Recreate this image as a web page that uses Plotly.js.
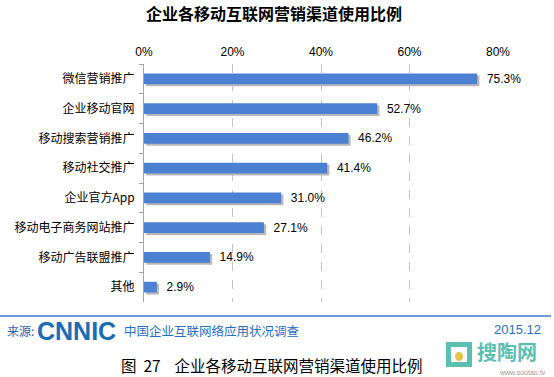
<!DOCTYPE html>
<html>
<head>
<meta charset="utf-8">
<script src="https://cdn.plot.ly/plotly-3.0.1.min.js"></script>
<style>html,body{margin:0;padding:0;background:#fff;}#chart{width:554px;height:377px;}</style>
</head>
<body>
<div id="chart"></div>
<script>
const categories = ["微信营销推广","企业移动官网","移动搜索营销推广","移动社交推广","企业官方App","移动电子商务网站推广","移动广告联盟推广","其他"];
const values = [75.3, 52.7, 46.2, 41.4, 31.0, 27.1, 14.9, 2.9];
const xTickVals = [0, 20, 40, 60, 80];
const xTickText = ["0%", "20%", "40%", "60%", "80%"];
const chartTitle = "企业各移动互联网营销渠道使用比例";
const sourceLabel = "来源";
const sourceLogo = "CNNIC";
const sourceName = "中国企业互联网络应用状况调查";
const dateLabel = "2015.12";
const caption = "图  27    企业各移动互联网营销渠道使用比例";

const W = 554, H = 377;
const M = {l: 144, r: 56, t: 64, b: 75};
const pw = W - M.l - M.r, ph = H - M.t - M.b;
const px = x => (x - M.l) / pw;
const py = y => (H - M.b - y) / ph;

const barW = 0.36;
const cjk = '"Noto Sans CJK SC", "Microsoft YaHei", sans-serif';
const latin = '"Liberation Sans", Arial, sans-serif';

const shadow = {
  type: 'bar', orientation: 'h', y: categories, x: values,
  base: 0.5, width: barW, offset: -barW/2 + 0.07,
  marker: {color: '#B8B8B8'}, hoverinfo: 'skip', showlegend: false
};
const bars = {
  type: 'bar', orientation: 'h', y: categories, x: values,
  width: barW,
  marker: {color: '#4C80D2'},
  texttemplate: '\u00A0\u00A0%{x:.1f}%', textposition: 'outside', constraintext: 'none',
  textfont: {family: latin, size: 12, color: '#000'},
  cliponaxis: false, showlegend: false
};

const layout = {
  width: W, height: H,
  margin: M,
  paper_bgcolor: '#fff', plot_bgcolor: '#fff',
  barmode: 'overlay',
  hovermode: false,
  title: {text: '<b>' + chartTitle + '</b>', x: 274 / W, xref: 'container', xanchor: 'center', y: 1 - 14/H, yanchor: 'middle',
          font: {family: cjk, size: 16, color: '#000'}},
  xaxis: {
    side: 'top', range: [0, 80], tickvals: xTickVals, ticktext: xTickText,
    showgrid: true, gridcolor: '#C4C4C4', griddash: 'dash', gridwidth: 1,
    zeroline: false, showline: false, ticks: '', ticklabelstandoff: 5,
    tickfont: {family: latin, size: 12, color: '#000'}
  },
  yaxis: {
    type: 'category', categoryorder: 'array', categoryarray: categories,
    autorange: 'reversed',
    showline: true, linecolor: '#A6A6A6', linewidth: 1,
    ticks: 'outside', tickson: 'boundaries', ticklen: 4, tickcolor: '#A6A6A6',
    ticklabelstandoff: 6,
    showgrid: false, zeroline: false,
    tickfont: {family: cjk, size: 12, color: '#000'}
  },
  shapes: [
    {type: 'line', xref: 'paper', yref: 'paper', x0: px(0), x1: px(551), y0: py(316), y1: py(316),
     line: {color: '#3C7BCB', width: 1.5}},
    {type: 'rect', xref: 'paper', yref: 'paper', x0: px(446), x1: px(472), y0: py(342), y1: py(367),
     fillcolor: '#5DBFB0', line: {width: 0}},
    {type: 'rect', xref: 'paper', yref: 'paper', x0: px(451), x1: px(467), y0: py(347), y1: py(362),
     fillcolor: '#FFFFFF', line: {width: 0}},
    {type: 'circle', xref: 'paper', yref: 'paper', x0: px(455), x1: px(463), y0: py(352), y1: py(361),
     fillcolor: '#E8C14A', line: {width: 0}}
  ],
  annotations: [
    {text: sourceLabel + ':', xref: 'paper', yref: 'paper', x: px(5), y: py(330), xanchor: 'left', yanchor: 'middle',
     showarrow: false, font: {family: cjk, size: 12, color: '#2466B0'}},
    {text: '<b>' + sourceLogo + '</b>', xref: 'paper', yref: 'paper', x: px(35), y: py(331), xanchor: 'left', yanchor: 'middle',
     showarrow: false, font: {family: latin, size: 25, color: '#1C6CB5'}},
    {text: sourceName, xref: 'paper', yref: 'paper', x: px(122), y: py(330), xanchor: 'left', yanchor: 'middle',
     showarrow: false, font: {family: cjk, size: 12.5, color: '#2470C4'}},
    {text: dateLabel, xref: 'paper', yref: 'paper', x: px(542), y: py(329), xanchor: 'right', yanchor: 'middle',
     showarrow: false, font: {family: latin, size: 13, color: '#2470C4'}, borderpad: 0},
    {text: caption, xref: 'paper', yref: 'paper', x: px(272), y: py(365), xanchor: 'center', yanchor: 'middle',
     showarrow: false, font: {family: cjk, size: 15.5, color: '#000'}, borderpad: 0},
    {text: '<b>搜陶网</b>', xref: 'paper', yref: 'paper', x: px(476), y: py(351), xanchor: 'left', yanchor: 'middle',
     showarrow: false, font: {family: cjk, size: 20, color: '#5DBFB0'}, borderpad: 0},
    {text: 'www.soutao.tv', xref: 'paper', yref: 'paper', x: px(547), y: py(372), xanchor: 'right', yanchor: 'middle',
     showarrow: false, font: {family: latin, size: 7, color: '#9A9A9A'}, borderpad: 0}
  ]
};

Plotly.newPlot('chart', [shadow, bars], layout, {staticPlot: true, displayModeBar: false});
</script>
</body>
</html>
